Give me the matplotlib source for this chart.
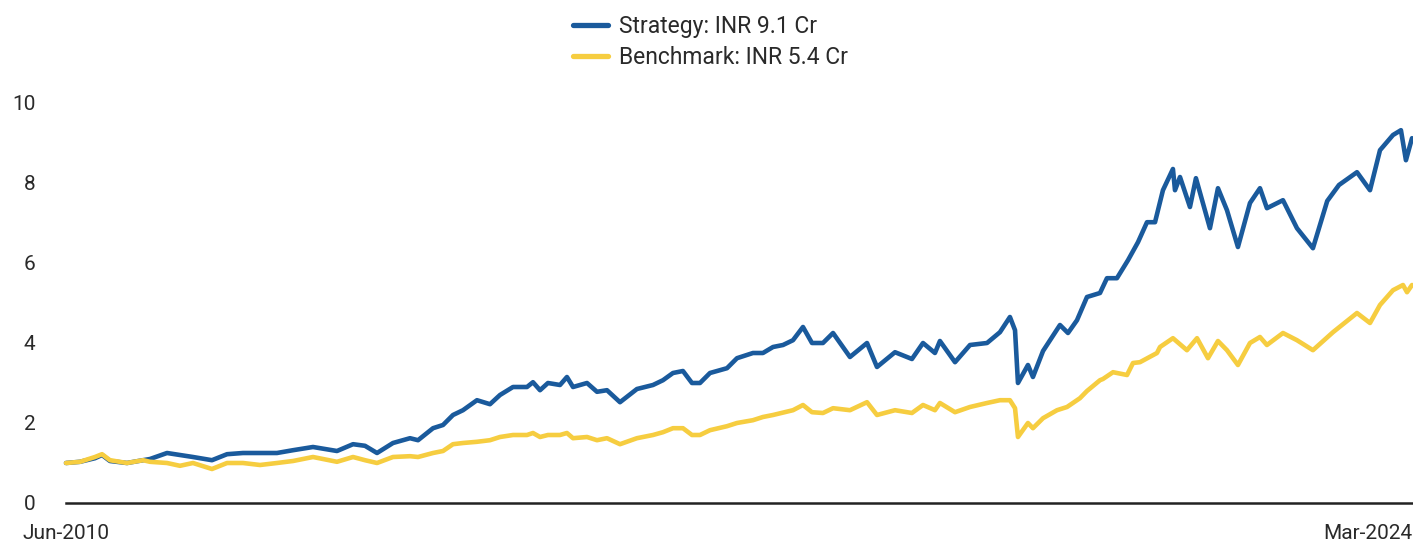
import matplotlib
matplotlib.use("Agg")
import matplotlib.pyplot as plt
import pandas as pd
import numpy as np

# ---- data (time in fractional years, value in INR Cr) ----
strategy_t = [2010.417, 2010.560, 2010.713, 2010.785, 2010.866, 2011.040, 2011.204, 2011.275,
              2011.449, 2011.581, 2011.714, 2011.908, 2012.062, 2012.225, 2012.399, 2012.572,
              2012.736, 2012.940, 2013.185, 2013.349, 2013.471, 2013.594, 2013.757, 2013.931,
              2014.013, 2014.166, 2014.268, 2014.370, 2014.472, 2014.615, 2014.748, 2014.850,
              2014.983, 2015.126, 2015.187, 2015.259, 2015.340, 2015.463, 2015.534, 2015.596,
              2015.739, 2015.841, 2015.943, 2016.076, 2016.249, 2016.413, 2016.515, 2016.617,
              2016.719, 2016.811, 2016.893, 2016.995, 2017.169, 2017.271, 2017.434, 2017.536,
              2017.639, 2017.741, 2017.843, 2017.945, 2018.037, 2018.149, 2018.252, 2018.425,
              2018.599, 2018.701, 2018.885, 2019.058, 2019.171, 2019.293, 2019.344, 2019.498,
              2019.651, 2019.825, 2019.957, 2020.059, 2020.111, 2020.141, 2020.243, 2020.294,
              2020.397, 2020.570, 2020.652, 2020.744, 2020.846, 2020.979, 2021.050, 2021.152,
              2021.265, 2021.367, 2021.459, 2021.541, 2021.622, 2021.724, 2021.745, 2021.796,
              2021.898, 2021.959, 2022.102, 2022.184, 2022.276, 2022.388, 2022.511, 2022.613,
              2022.684, 2022.848, 2022.991, 2023.154, 2023.300, 2023.420, 2023.604, 2023.737,
              2023.839, 2023.972, 2024.053, 2024.104, 2024.166]
strategy_v = [1.00, 1.03, 1.12, 1.20, 1.05, 1.00, 1.07, 1.10,
              1.25, 1.20, 1.15, 1.07, 1.22, 1.25, 1.25, 1.25,
              1.32, 1.40, 1.30, 1.47, 1.43, 1.25, 1.50, 1.62,
              1.57, 1.87, 1.95, 2.20, 2.32, 2.57, 2.47, 2.70,
              2.90, 2.90, 3.02, 2.82, 3.00, 2.95, 3.15, 2.90,
              3.00, 2.78, 2.82, 2.52, 2.85, 2.95, 3.07, 3.25,
              3.30, 3.00, 3.00, 3.25, 3.37, 3.62, 3.75, 3.75,
              3.90, 3.95, 4.07, 4.40, 4.00, 4.00, 4.25, 3.65,
              4.00, 3.40, 3.77, 3.60, 4.00, 3.75, 4.05, 3.52,
              3.95, 4.00, 4.27, 4.65, 4.32, 3.00, 3.45, 3.15,
              3.80, 4.45, 4.25, 4.57, 5.15, 5.25, 5.62, 5.62,
              6.07, 6.52, 7.02, 7.02, 7.82, 8.35, 7.82, 8.15,
              7.40, 8.12, 6.87, 7.87, 7.32, 6.40, 7.50, 7.87,
              7.37, 7.57, 6.87, 6.37, 7.55, 7.95, 8.27, 7.82,
              8.82, 9.20, 9.32, 8.57, 9.12]

benchmark_t = [2010.417, 2010.560, 2010.713, 2010.785, 2010.866, 2011.040, 2011.204, 2011.275,
               2011.449, 2011.581, 2011.714, 2011.908, 2012.062, 2012.225, 2012.399, 2012.572,
               2012.736, 2012.940, 2013.185, 2013.349, 2013.471, 2013.594, 2013.757, 2013.931,
               2014.013, 2014.166, 2014.268, 2014.370, 2014.472, 2014.615, 2014.748, 2014.850,
               2014.983, 2015.126, 2015.187, 2015.259, 2015.340, 2015.463, 2015.534, 2015.596,
               2015.739, 2015.841, 2015.943, 2016.076, 2016.249, 2016.413, 2016.515, 2016.617,
               2016.719, 2016.811, 2016.893, 2016.995, 2017.169, 2017.271, 2017.434, 2017.536,
               2017.639, 2017.843, 2017.945, 2018.037, 2018.149, 2018.252, 2018.425, 2018.599,
               2018.701, 2018.885, 2019.058, 2019.171, 2019.293, 2019.344, 2019.498, 2019.651,
               2019.825, 2019.957, 2020.059, 2020.111, 2020.141, 2020.243, 2020.294, 2020.397,
               2020.540, 2020.642, 2020.774, 2020.846, 2020.979, 2021.009, 2021.112, 2021.255,
               2021.316, 2021.387, 2021.561, 2021.592, 2021.724, 2021.867, 2021.970, 2022.082,
               2022.184, 2022.276, 2022.388, 2022.511, 2022.613, 2022.684, 2022.848, 2022.991,
               2023.154, 2023.359, 2023.604, 2023.737, 2023.839, 2023.972, 2024.074, 2024.115,
               2024.166]
benchmark_v = [1.00, 1.03, 1.15, 1.22, 1.07, 1.00, 1.07, 1.03,
               1.00, 0.93, 1.00, 0.85, 1.00, 1.00, 0.95, 1.00,
               1.05, 1.15, 1.03, 1.15, 1.07, 1.00, 1.15, 1.17,
               1.15, 1.25, 1.30, 1.47, 1.50, 1.53, 1.57, 1.65,
               1.70, 1.70, 1.75, 1.65, 1.70, 1.70, 1.75, 1.62,
               1.65, 1.57, 1.62, 1.47, 1.62, 1.70, 1.77, 1.87,
               1.87, 1.70, 1.70, 1.82, 1.92, 2.00, 2.07, 2.15,
               2.20, 2.32, 2.45, 2.27, 2.25, 2.37, 2.32, 2.52,
               2.20, 2.32, 2.25, 2.45, 2.32, 2.50, 2.27, 2.40,
               2.50, 2.57, 2.57, 2.37, 1.65, 2.00, 1.87, 2.12,
               2.32, 2.40, 2.62, 2.80, 3.07, 3.10, 3.27, 3.20,
               3.50, 3.52, 3.75, 3.90, 4.12, 3.82, 4.12, 3.62,
               4.05, 3.82, 3.45, 4.00, 4.15, 3.95, 4.25, 4.07,
               3.82, 4.27, 4.75, 4.50, 4.95, 5.32, 5.45, 5.27,
               5.45]

legend_labels = ["Strategy: INR 9.1 Cr", "Benchmark: INR 5.4 Cr"]
x_tick_labels = ["Jun-2010", "Mar-2024"]
y_ticks = [0, 2, 4, 6, 8, 10]

BLUE = "#1a5a9c"
YELLOW = "#f6cd40"
TEXT = "#2a2a2a"


def to_dates(ts):
    base = pd.Timestamp("2010-01-01")
    return [base + pd.to_timedelta((t - 2010) * 365.25, unit="D") for t in ts]


plt.rcParams["font.family"] = ["Roboto", "DejaVu Sans"]

fig = plt.figure(figsize=(14.13, 5.41), dpi=100)
ax = fig.add_axes([66 / 1413, 38 / 541, (1412 - 66) / 1413, 400 / 541])

s_dates = to_dates(strategy_t)
b_dates = to_dates(benchmark_t)

ax.plot(s_dates, strategy_v, color=BLUE, lw=3.3, solid_joinstyle="round",
        solid_capstyle="round", label=legend_labels[0], clip_on=False)
ax.plot(b_dates, benchmark_v, color=YELLOW, lw=3.3, solid_joinstyle="round",
        solid_capstyle="round", label=legend_labels[1], clip_on=False)

ax.set_xlim(s_dates[0], s_dates[-1])
ax.set_ylim(0, 10)
ax.set_yticks(y_ticks)
ax.set_yticklabels([str(v) for v in y_ticks])

ax.set_xticks([s_dates[0], s_dates[-1]])
ax.set_xticklabels(x_tick_labels)
xt = ax.get_xticklabels()
xt[0].set_ha("center")
xt[1].set_ha("right")

for sp in ["top", "right", "left"]:
    ax.spines[sp].set_visible(False)
ax.spines["bottom"].set_color("#222222")
ax.spines["bottom"].set_linewidth(1.8)

ax.tick_params(axis="y", length=0, pad=22, labelsize=15, labelcolor=TEXT)
ax.tick_params(axis="x", length=0, pad=15, labelsize=15, labelcolor=TEXT)

leg = fig.legend(loc="upper center", bbox_to_anchor=(0.503, 1.01), ncol=1,
                 frameon=False, fontsize=16.5, handlelength=1.5,
                 handletextpad=0.5, labelspacing=0.35)
for line in leg.get_lines():
    line.set_linewidth(3.8)
for t in leg.get_texts():
    t.set_color(TEXT)

fig.savefig("out.png", dpi=100)
